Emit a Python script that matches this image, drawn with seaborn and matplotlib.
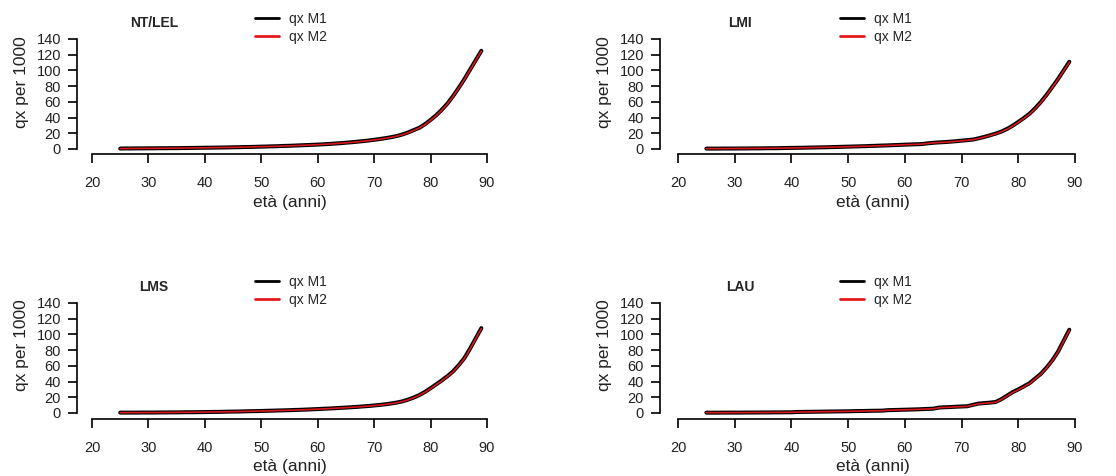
import numpy as np
import pandas as pd
import matplotlib
matplotlib.use("Agg")
import matplotlib.pyplot as plt
import seaborn as sns
from matplotlib.lines import Line2D

# ---------------- data ----------------
ages = list(range(25, 90))

panel_titles = ["NT/LEL", "LMI", "LMS", "LAU"]
series_labels = ["qx M1", "qx M2"]
x_ticks = [20, 30, 40, 50, 60, 70, 80, 90]
y_ticks = [0, 20, 40, 60, 80, 100, 120, 140]
x_label = "età (anni)"
y_label = "qx per 1000"

nt_lel_m1 = [0.6, 0.7, 0.7, 0.8, 0.8, 0.9, 0.9, 1.0, 1.0, 1.1, 1.1, 1.2, 1.3, 1.4, 1.5,
             1.6, 1.7, 1.8, 1.9, 2.0, 2.2, 2.3, 2.5, 2.6, 2.8, 3.0, 3.2, 3.4, 3.6, 3.9,
             4.1, 4.4, 4.7, 5.0, 5.3, 5.6, 6.0, 6.4, 6.9, 7.4, 8.0, 8.6, 9.3, 10.0, 10.8,
             11.7, 12.7, 13.8, 15.0, 16.5, 18.5, 21.0, 24.0, 27.0, 31.5, 37.0, 43.0, 50.0, 58.0, 67.5,
             78.0, 89.0, 101.0, 113.0, 125.0]
nt_lel_m2 = [0.5, 0.6, 0.7, 0.7, 0.8, 0.8, 0.9, 0.9, 1.0, 1.0, 1.1, 1.2, 1.3, 1.3, 1.4,
             1.5, 1.7, 1.8, 1.9, 2.0, 2.1, 2.3, 2.4, 2.6, 2.8, 3.0, 3.1, 3.3, 3.6, 3.8,
             4.0, 4.3, 4.6, 4.9, 5.2, 5.5, 5.9, 6.3, 6.8, 7.3, 7.8, 8.4, 9.1, 9.8, 10.6,
             11.5, 12.5, 13.6, 14.8, 16.3, 18.2, 20.6, 23.5, 26.8, 31.0, 36.5, 42.5, 49.5, 57.5, 67.0,
             77.5, 88.5, 100.5, 112.5, 124.5]

lmi_m1 = [0.5, 0.5, 0.5, 0.6, 0.6, 0.6, 0.7, 0.7, 0.8, 0.8, 0.9, 1.0, 1.0, 1.1, 1.3,
          1.4, 1.5, 1.6, 1.8, 1.9, 2.1, 2.2, 2.4, 2.6, 2.8, 3.0, 3.2, 3.4, 3.6, 3.9,
          4.1, 4.4, 4.6, 4.9, 5.2, 5.5, 5.8, 6.0, 6.3, 7.2, 7.9, 8.4, 8.8, 9.3, 9.9,
          10.6, 11.3, 12.0, 13.6, 15.4, 17.4, 19.6, 22.1, 25.5, 29.6, 34.5, 39.5, 45.0, 52.0, 60.0,
          69.0, 79.0, 89.0, 100.0, 111.0]
lmi_m2 = [0.5, 0.5, 0.5, 0.5, 0.6, 0.6, 0.7, 0.7, 0.7, 0.8, 0.9, 0.9, 1.0, 1.1, 1.2,
          1.3, 1.5, 1.6, 1.7, 1.9, 2.0, 2.2, 2.3, 2.5, 2.7, 2.9, 3.1, 3.3, 3.5, 3.8,
          4.0, 4.3, 4.5, 4.8, 5.1, 5.4, 5.7, 5.9, 6.2, 7.0, 7.7, 8.2, 8.6, 9.1, 9.7,
          10.4, 11.1, 11.8, 13.3, 15.1, 17.1, 19.3, 21.8, 25.1, 29.2, 34.0, 39.0, 44.6, 51.5, 59.5,
          68.5, 78.5, 88.5, 99.5, 110.5]

lms_m1 = [0.5, 0.5, 0.5, 0.5, 0.6, 0.6, 0.6, 0.7, 0.7, 0.8, 0.8, 0.9, 1.0, 1.0, 1.1,
          1.2, 1.3, 1.4, 1.5, 1.7, 1.8, 1.9, 2.1, 2.3, 2.4, 2.6, 2.8, 3.0, 3.2, 3.4,
          3.6, 3.9, 4.1, 4.4, 4.7, 5.0, 5.4, 5.7, 6.1, 6.5, 6.9, 7.4, 7.8, 8.4, 8.9,
          9.6, 10.3, 11.1, 12.1, 13.3, 14.8, 17.0, 19.6, 22.8, 26.8, 31.5, 36.5, 41.5, 47.0, 53.0,
          61.0, 70.0, 82.0, 95.0, 108.0]
lms_m2 = [0.4, 0.5, 0.5, 0.5, 0.5, 0.6, 0.6, 0.6, 0.7, 0.7, 0.8, 0.9, 0.9, 1.0, 1.1,
          1.2, 1.3, 1.4, 1.5, 1.6, 1.7, 1.9, 2.0, 2.2, 2.4, 2.5, 2.7, 2.9, 3.1, 3.3,
          3.5, 3.8, 4.0, 4.3, 4.6, 4.9, 5.3, 5.6, 6.0, 6.4, 6.8, 7.3, 7.7, 8.2, 8.8,
          9.4, 10.1, 10.9, 11.9, 13.0, 14.5, 16.7, 19.3, 22.5, 26.4, 31.0, 36.0, 41.0, 46.5, 52.5,
          60.5, 69.5, 81.5, 94.5, 107.5]

lau_m1 = [0.4, 0.4, 0.4, 0.5, 0.5, 0.5, 0.5, 0.6, 0.6, 0.6, 0.7, 0.7, 0.8, 0.8, 0.9,
          0.9, 1.3, 1.4, 1.5, 1.6, 1.7, 1.8, 1.9, 2.0, 2.1, 2.2, 2.4, 2.5, 2.6, 2.8,
          2.9, 3.0, 3.6, 3.8, 4.0, 4.2, 4.4, 4.6, 4.9, 5.2, 5.5, 6.9, 7.3, 7.6, 8.0,
          8.3, 8.6, 10.4, 12.0, 12.6, 13.2, 14.0, 17.5, 22.0, 26.5, 30.0, 34.0, 38.0, 44.0, 50.0,
          58.0, 67.0, 78.0, 92.0, 106.0]
lau_m2 = [0.4, 0.4, 0.4, 0.4, 0.5, 0.5, 0.5, 0.5, 0.6, 0.6, 0.6, 0.7, 0.7, 0.8, 0.8,
          0.9, 1.2, 1.3, 1.4, 1.5, 1.6, 1.7, 1.8, 1.9, 2.0, 2.1, 2.3, 2.4, 2.5, 2.7,
          2.8, 2.9, 3.5, 3.7, 3.9, 4.1, 4.3, 4.5, 4.8, 5.1, 5.4, 6.7, 7.1, 7.4, 7.8,
          8.1, 8.4, 10.1, 11.7, 12.3, 12.9, 13.7, 17.1, 21.6, 26.0, 29.5, 33.5, 37.5, 43.5, 49.5,
          57.5, 66.5, 77.5, 91.5, 105.5]

panel_m1 = [nt_lel_m1, lmi_m1, lms_m1, lau_m1]
panel_m2 = [nt_lel_m2, lmi_m2, lms_m2, lau_m2]

# ---------------- style ----------------
sns.set_style("ticks")
plt.rcParams["font.family"] = ["Liberation Sans", "DejaVu Sans"]

W, H = 1116, 476
fig = plt.figure(figsize=(W / 100, H / 100), dpi=100)

# pixel geometry of each panel:
# (axes left, right, top, bottom, px of x=20, px of x=90, px of y=0, px of y=140,
#  xlabel centre x, xlabel centre y, ylabel centre x, ylabel centre y, legend x, legend y)
frames = [
    (77, 492, 30, 154, 92, 487, 149, 39, 290, 202, 22, 82, 255, 12),
    (660, 1080, 30, 154, 678, 1075, 149, 39, 873, 202, 605, 82, 840, 12),
    (77, 492, 293, 419, 92, 487, 413, 303, 290, 466, 22, 345, 255, 275),
    (660, 1080, 293, 419, 678, 1075, 413, 303, 873, 466, 605, 345, 840, 275),
]

for i, fr in enumerate(frames):
    (left, right, top, bottom, px20, px90, py0, py140,
     xlx, xly, ylx, yly, lgx, lgy) = fr
    ax = fig.add_axes([left / W, (H - bottom) / H, (right - left) / W, (bottom - top) / H])
    df = pd.DataFrame({
        "age": ages * 2,
        "qx": panel_m1[i] + panel_m2[i],
        "serie": [series_labels[0]] * len(ages) + [series_labels[1]] * len(ages),
    })
    sns.lineplot(data=df[df["serie"] == series_labels[0]], x="age", y="qx",
                 color="black", linewidth=2.9, ax=ax, legend=False)
    sns.lineplot(data=df[df["serie"] == series_labels[1]], x="age", y="qx",
                 color="#d7191c", linewidth=1.2, ax=ax, legend=False)

    sx = 70 / (px90 - px20)
    ax.set_xlim(20 + (left - px20) * sx, 20 + (right - px20) * sx)
    sy = 140 / (py0 - py140)
    ax.set_ylim((py0 - bottom) * sy, (py0 - top) * sy)

    for s in ["top", "right"]:
        ax.spines[s].set_visible(False)
    for s in ["left", "bottom"]:
        ax.spines[s].set_linewidth(1.2)
        ax.spines[s].set_color("black")
    ax.spines["left"].set_bounds(0, 140)
    ax.spines["bottom"].set_bounds(20, 90)

    ax.set_xticks(x_ticks)
    ax.set_yticks(y_ticks)
    ax.tick_params(axis="both", direction="out", length=6.5, width=1.2,
                   color="black", labelsize=10.5, labelcolor="#222222",
                   bottom=True, left=True)
    ax.tick_params(axis="x", pad=9)
    ax.tick_params(axis="y", pad=5)

    wpx = right - left
    hpx = bottom - top
    ax.set_xlabel(x_label, fontsize=12.5, color="#222222")
    ax.set_ylabel(y_label, fontsize=12.5, color="#222222")
    ax.xaxis.set_label_coords((xlx - left) / wpx, (bottom - xly) / hpx)
    ax.xaxis.label.set_va("center")
    ax.yaxis.set_label_coords((ylx - left) / wpx, (bottom - yly) / hpx)
    ax.yaxis.label.set_va("center")

    ax.text(31, 160, panel_titles[i], ha="center", va="center",
            fontsize=10, fontweight="bold", clip_on=False)

    handles = [Line2D([], [], color="black", linewidth=2.0),
               Line2D([], [], color="#e41a1c", linewidth=2.0)]
    ax.legend(handles, series_labels, loc="upper left",
              bbox_to_anchor=(lgx / W, (H - lgy) / H), bbox_transform=fig.transFigure,
              frameon=False, fontsize=10, handlelength=1.7, handletextpad=0.75,
              labelspacing=0.3, borderpad=0, borderaxespad=0)

fig.savefig("out.png", dpi=100, facecolor="white")
